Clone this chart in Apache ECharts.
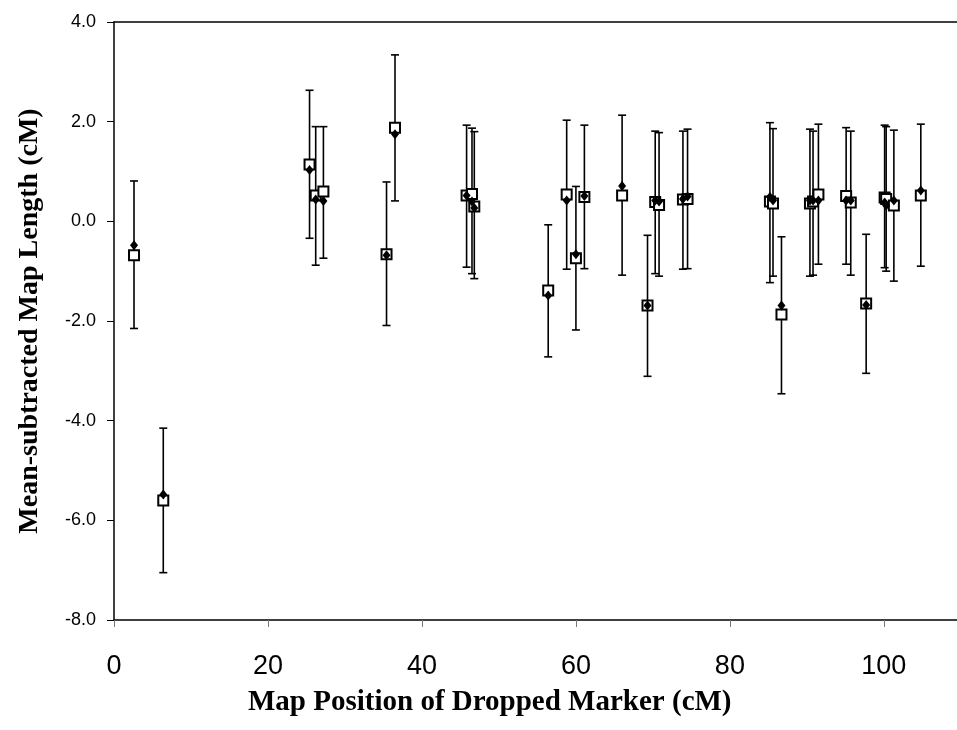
<!DOCTYPE html>
<html>
<head>
    <meta charset="utf-8">
    <title>Mean-subtracted map length</title>
    <script src="https://cdn.jsdelivr.net/npm/echarts@6/dist/echarts.min.js"></script>
    <style>
        html, body { margin: 0; padding: 0; background: #fff; }
    </style>
</head>
<body>
    <div id="chart" style="width: 957px;height:730px;"></div>
    <script type="text/javascript">
        // map position of the dropped marker (cM)
        var positions = [2.6, 6.4, 25.4, 26.2, 27.2, 35.4, 36.5, 45.8, 46.5, 46.8,
            56.4, 58.8, 60.0, 61.1, 66.0, 69.3, 70.3, 70.8, 73.9, 74.5,
            85.2, 85.6, 86.7, 90.4, 90.8, 91.5, 95.1, 95.7, 97.7, 100.1,
            100.3, 101.3, 104.8];
        // open squares
        var squareVals = [-0.68, -5.60, 1.14, 0.52, 0.60, -0.66, 1.88, 0.52, 0.55, 0.30,
            -1.39, 0.54, -0.74, 0.49, 0.52, -1.69, 0.39, 0.33, 0.44, 0.45,
            0.40, 0.36, -1.87, 0.36, 0.40, 0.54, 0.51, 0.38, -1.65, 0.48,
            0.45, 0.32, 0.52];
        // filled diamonds
        var diamondVals = [-0.48, -5.48, 1.03, 0.44, 0.41, -0.68, 1.75, 0.52, 0.40, 0.27,
            -1.49, 0.42, -0.66, 0.51, 0.71, -1.69, 0.42, 0.40, 0.45, 0.50,
            0.49, 0.42, -1.69, 0.42, 0.42, 0.42, 0.42, 0.42, -1.68, 0.38,
            0.32, 0.42, 0.62];
        // error bar ends
        var lowVals = [-2.15, -7.05, -0.34, -0.88, -0.74, -2.09, 0.41, -0.92, -1.05, -1.15,
            -2.72, -0.96, -2.18, -0.95, -1.08, -3.11, -1.05, -1.10, -0.96, -0.95,
            -1.23, -1.10, -3.46, -1.10, -1.08, -0.86, -0.86, -1.08, -3.05, -0.93,
            -1.00, -1.20, -0.90];
        var highVals = [0.81, -4.15, 2.63, 1.90, 1.90, 0.79, 3.34, 1.93, 1.87, 1.80,
            -0.07, 2.03, 0.70, 1.93, 2.13, -0.28, 1.81, 1.78, 1.81, 1.85,
            1.98, 1.86, -0.31, 1.85, 1.81, 1.95, 1.88, 1.81, -0.26, 1.93,
            1.90, 1.83, 1.95];

        var myChart = echarts.init(document.getElementById('chart'));

        var squareData = positions.map(function (x, i) { return [x, squareVals[i]]; });
        var diamondData = positions.map(function (x, i) { return [x, diamondVals[i]]; });
        var barData = positions.map(function (x, i) { return [x, lowVals[i], highVals[i]]; });

        var option = {
            backgroundColor: '#fff',
            animation: false,
            grid: {
                left: 114,
                right: 0,
                top: 22,
                bottom: 110
            },
            xAxis: [{
                type: 'value',
                min: 0,
                max: 109.5,
                interval: 20,
                splitLine: { show: false },
                axisLine: { onZero: false, lineStyle: { color: '#000', width: 1.5 } },
                axisTick: { length: 7, lineStyle: { color: '#777', width: 1 } },
                axisLabel: {
                    color: '#000',
                    fontFamily: 'Liberation Sans, Arial, sans-serif',
                    fontSize: 27,
                    margin: 33,
                    showMaxLabel: false
                }
            }, {
                // plain line along the top of the plot
                type: 'value',
                position: 'top',
                min: 0,
                max: 109.5,
                axisLine: { onZero: false, lineStyle: { color: '#000', width: 1.5 } },
                axisTick: { show: false },
                axisLabel: { show: false },
                splitLine: { show: false }
            }],
            yAxis: {
                type: 'value',
                min: -8,
                max: 4,
                interval: 2,
                name: 'Mean-subtracted Map Length (cM)',
                nameLocation: 'middle',
                nameGap: 70,
                nameTextStyle: {
                    color: '#000',
                    fontFamily: 'Liberation Serif, Times New Roman, serif',
                    fontWeight: 'bold',
                    fontSize: 28
                },
                splitLine: { show: false },
                axisLine: { lineStyle: { color: '#000', width: 1.5 } },
                axisTick: { length: 7, lineStyle: { color: '#000', width: 1 } },
                axisLabel: {
                    color: '#000',
                    fontFamily: 'Liberation Sans, Arial, sans-serif',
                    fontSize: 18,
                    margin: 18,
                    formatter: function (v) { return v.toFixed(1); }
                }
            },
            graphic: [{
                type: 'text',
                left: 248,
                top: 688,
                style: {
                    text: 'Map Position of Dropped Marker (cM)',
                    fill: '#000',
                    font: 'bold 29px "Liberation Serif", "Times New Roman", serif'
                }
            }],
            series: [
                {
                    name: 'error',
                    type: 'custom',
                    data: barData,
                    z: 1,
                    renderItem: function (params, api) {
                        var x = api.value(0);
                        var lo = api.coord([x, api.value(1)]);
                        var hi = api.coord([x, api.value(2)]);
                        var w = 4;
                        var st = { stroke: '#000', lineWidth: 1.6 };
                        return {
                            type: 'group',
                            children: [
                                { type: 'line', shape: { x1: lo[0], y1: lo[1], x2: hi[0], y2: hi[1] }, style: st },
                                { type: 'line', shape: { x1: lo[0] - w, y1: lo[1], x2: lo[0] + w, y2: lo[1] }, style: st },
                                { type: 'line', shape: { x1: hi[0] - w, y1: hi[1], x2: hi[0] + w, y2: hi[1] }, style: st }
                            ]
                        };
                    }
                },
                {
                    name: 'square',
                    type: 'scatter',
                    symbol: 'rect',
                    symbolSize: 10,
                    data: squareData,
                    z: 2,
                    itemStyle: { color: '#fff', borderColor: '#000', borderWidth: 2, opacity: 1 }
                },
                {
                    name: 'diamond',
                    type: 'scatter',
                    symbol: 'diamond',
                    symbolSize: [8, 10],
                    data: diamondData,
                    z: 3,
                    itemStyle: { color: '#000', opacity: 1 }
                }
            ]
        };

        myChart.setOption(option);
    </script>
</body>
</html>
